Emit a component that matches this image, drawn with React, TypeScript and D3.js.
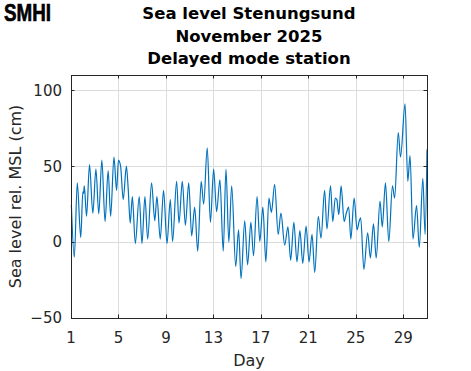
import { useRef, useEffect } from "react";
import * as d3 from "d3";

// Turning points (highs/lows) of the hourly sea level.
const tideDays = [
  1.03, 1.28, 1.53, 1.82, 2.0, 2.06, 2.12, 2.31, 2.56, 2.84, 3.1, 3.34, 3.6,
  3.87, 4.13, 4.34, 4.62, 4.84, 5.0, 5.18, 5.4, 5.67, 5.82, 5.99, 6.17, 6.42,
  6.75, 6.98, 7.23, 7.46, 7.79, 8.06, 8.24, 8.52, 8.8, 9.09, 9.37, 9.56, 9.9,
  10.1, 10.38, 10.64, 10.92, 11.17, 11.42, 11.68, 11.97, 12.18, 12.48, 12.75,
  13.02, 13.27, 13.55, 13.83, 14.06, 14.3, 14.54, 14.88, 15.12, 15.33, 15.64,
  15.88, 16.16, 16.38, 16.68, 16.91, 17.17, 17.42, 17.68, 17.89, 18.16, 18.46,
  18.69, 19.01, 19.28, 19.51, 19.78, 20.04, 20.29, 20.53, 20.81, 21.06, 21.31,
  21.54, 21.84, 22.07, 22.37, 22.57, 22.87, 23.06, 23.27, 23.4, 23.57, 23.76,
  24.02, 24.2, 24.4, 24.58, 24.86, 25.11, 25.26, 25.41, 25.68, 26.0, 26.23,
  26.49, 26.72, 27.04, 27.23, 27.5, 27.78, 28.09, 28.27, 28.58, 28.77, 29.15,
  29.38, 29.57, 29.82, 30.12, 30.35, 30.65, 30.84, 31.0,
];
const tideLevels = [
  24.5, -10, 39, 3, 33, 32, 37, 17, 51, 19, 48, 18.6, 54,
  13.5, 47, 17, 56, 34, 54, 50, 28, 50, 35, 12.5, 30, -1,
  30, -1, 30, 2, 39, 14, 30, 2, 34, -1, 28, 0.4, 40,
  12.5, 40, 11, 39, 4, 23, -6, 40, 25, 62, 13,
  48, 20, 41, -6, 48, 0, 37, -16, 8, -24, 14,
  -15, 13, -9, 30, 0.4, 23, -13, 29, 19.5, 38, 5,
  19, -2, 10, -12, 13, -13, 7.5, -14, 10.5, -13, 5,
  -20, 17, 2.6, 34, 8.6, 37, 13.5, 29, 28, 18, 37,
  13.5, 19, 23, 2, 29, 8, 13, 16, -18, 6, -10.5,
  12, -10.5, 27, 10, 39, 0.4, 37, 29, 72, 56, 91,
  40, 57, 2, 24, -3.5, 42, 5, 61,
];

const dayTicks = [1, 5, 9, 13, 17, 21, 25, 29];
const levelTicks = [-50, 0, 50, 100];
const titleLines = ["Sea level Stenungsund", "November 2025", "Delayed mode station"];

const FONT = "DejaVu Sans, sans-serif";

export default function App() {
  const svgRef = useRef<SVGSVGElement | null>(null);

  useEffect(() => {
    const svg = d3.select(svgRef.current);
    svg.selectAll("*").remove();

    const width = 471;
    const height = 371;
    const m = { left: 71, right: 44, top: 75, bottom: 53 };
    const x0 = m.left;
    const x1 = width - m.right;
    const y0 = height - m.bottom;
    const y1 = m.top;

    svg.attr("width", width).attr("height", height);

    const x = d3.scaleLinear().domain([1, 31]).range([x0, x1]);
    const y = d3.scaleLinear().domain([-50, 110]).range([y0, y1]);

    // grid
    const grid = svg.append("g").attr("stroke", "#dcdcdc").attr("stroke-width", 1);
    grid.selectAll("line.gx")
      .data(dayTicks.slice(1))
      .join("line")
      .attr("x1", (d) => Math.round(x(d)) + 0.5)
      .attr("x2", (d) => Math.round(x(d)) + 0.5)
      .attr("y1", y1)
      .attr("y2", y0);
    grid.selectAll("line.gy")
      .data(levelTicks.slice(1))
      .join("line")
      .attr("y1", (d) => Math.round(y(d)) + 0.5)
      .attr("y2", (d) => Math.round(y(d)) + 0.5)
      .attr("x1", x0)
      .attr("x2", x1);

    // data line
    const pts = tideDays.map((d, i) => [d, tideLevels[i]] as [number, number]);
    svg.append("path")
      .datum(pts)
      .attr("fill", "none")
      .attr("stroke", "#0072BD")
      .attr("stroke-width", 1.2)
      .attr("stroke-linejoin", "round")
      .attr("d", d3.line<[number, number]>()
        .x((d) => x(d[0]))
        .y((d) => y(d[1]))
        .curve(d3.curveMonotoneX));

    // box + inward ticks
    const axisColor = "#262626";
    svg.append("rect")
      .attr("x", x0 + 0.5)
      .attr("y", y1 + 0.5)
      .attr("width", x1 - x0)
      .attr("height", y0 - y1)
      .attr("fill", "none")
      .attr("stroke", axisColor)
      .attr("stroke-width", 1);

    const tl = 3.5;
    const ticks = svg.append("g").attr("stroke", axisColor).attr("stroke-width", 1);
    dayTicks.forEach((d) => {
      const px = Math.round(x(d)) + 0.5;
      ticks.append("line").attr("x1", px).attr("x2", px).attr("y1", y0).attr("y2", y0 - tl);
      ticks.append("line").attr("x1", px).attr("x2", px).attr("y1", y1).attr("y2", y1 + tl);
    });
    levelTicks.forEach((d) => {
      const py = Math.round(y(d)) + 0.5;
      ticks.append("line").attr("x1", x0).attr("x2", x0 + tl).attr("y1", py).attr("y2", py);
      ticks.append("line").attr("x1", x1).attr("x2", x1 - tl).attr("y1", py).attr("y2", py);
    });

    // tick labels
    svg.append("g")
      .selectAll("text")
      .data(dayTicks)
      .join("text")
      .attr("x", (d) => x(d))
      .attr("y", y0 + 25)
      .attr("text-anchor", "middle")
      .attr("font-family", FONT)
      .attr("font-size", 15)
      .attr("fill", axisColor)
      .text((d) => String(d));

    svg.append("g")
      .selectAll("text")
      .data(levelTicks)
      .join("text")
      .attr("x", x0 - 9)
      .attr("y", (d) => y(d))
      .attr("dy", "0.36em")
      .attr("text-anchor", "end")
      .attr("font-family", FONT)
      .attr("font-size", 15)
      .attr("fill", axisColor)
      .text((d) => (d < 0 ? "\u2212" + Math.abs(d) : String(d)));

    // axis titles
    svg.append("text")
      .attr("x", (x0 + x1) / 2)
      .attr("y", 366)
      .attr("text-anchor", "middle")
      .attr("font-family", FONT)
      .attr("font-size", 16)
      .attr("fill", axisColor)
      .text("Day");

    svg.append("text")
      .attr("transform", `translate(21,${(y0 + y1) / 2}) rotate(-90)`)
      .attr("text-anchor", "middle")
      .attr("font-family", FONT)
      .attr("font-size", 16)
      .attr("fill", axisColor)
      .text("Sea level rel. MSL (cm)");

    // title
    svg.append("g")
      .selectAll("text")
      .data(titleLines)
      .join("text")
      .attr("x", (x0 + x1) / 2)
      .attr("y", (_, i) => 19 + i * 22.5)
      .attr("text-anchor", "middle")
      .attr("font-family", FONT)
      .attr("font-size", 16.5)
      .attr("font-weight", "bold")
      .attr("fill", "#000")
      .text((d) => d);

    // logo
    svg.append("text")
      .attr("x", 4)
      .attr("y", 20.5)
      .attr("font-family", "Liberation Sans, Arial, sans-serif")
      .attr("font-size", 23)
      .attr("font-weight", 900)
      .attr("stroke", "#000")
      .attr("stroke-width", 0.6)
      .attr("textLength", 47)
      .attr("lengthAdjust", "spacingAndGlyphs")
      .attr("fill", "#000")
      .text("SMHI");
  }, []);

  return (
    <div style={{ position: "absolute", left: 0, top: 0 }}>
      <svg ref={svgRef} style={{ display: "block" }} />
    </div>
  );
}
